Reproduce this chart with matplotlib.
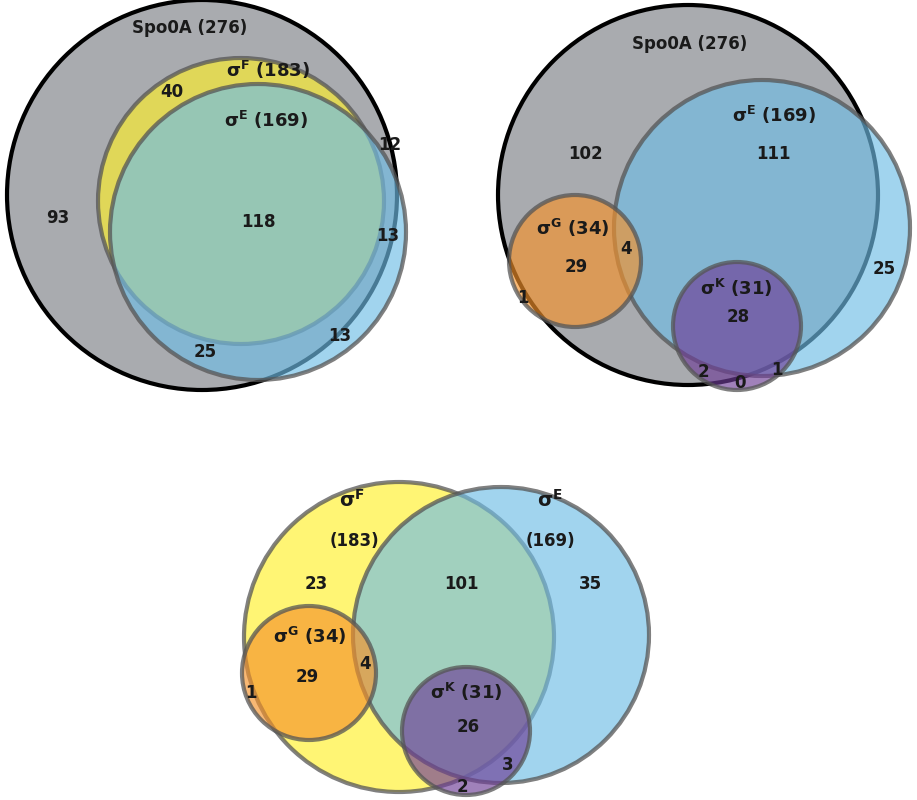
import matplotlib
matplotlib.use("Agg")
import matplotlib.pyplot as plt
from matplotlib.patches import Circle

# data
set_names = ["Spo0A", r"$\mathregular{\sigma^{F}}$", r"$\mathregular{\sigma^{E}}$", r"$\mathregular{\sigma^{G}}$", r"$\mathregular{\sigma^{K}}$"]
set_sizes = [276, 183, 169, 34, 31]
p1_counts = [93, 40, 118, 12, 13, 13, 25]
p2_counts = [102, 111, 29, 4, 1, 28, 25, 2, 0, 1]
p3_counts = [23, 101, 35, 29, 4, 1, 26, 3, 2]

colors = {"Spo0A": "#7c7e84", "F": "#fff02a", "E": "#6fbde6", "G": "#f5922a", "K": "#6e3d96"}

fig = plt.figure(figsize=(9.17, 8.0), dpi=100)
ax = fig.add_axes([0, 0, 1, 1])
ax.set_xlim(0, 917); ax.set_ylim(800, 0); ax.axis("off")

def circ(x, y, r, key, edge="#555555", lw=3):
    ax.add_patch(Circle((x, y), r, facecolor=colors[key], alpha=0.65, edgecolor="none"))
    ax.add_patch(Circle((x, y), r, facecolor="none", edgecolor=edge, lw=lw, alpha=0.75 if edge != "black" else 1))

def t(x, y, s, fs=12):
    ax.text(x, y, s, ha="center", va="center", fontsize=fs, fontweight="bold", color="#1a1a1a")

# panel 1
circ(202, 195, 195, "Spo0A", edge="black")
circ(241, 201, 143, "F")
circ(258, 232, 148, "E")
t(190, 28, f"{set_names[0]} ({set_sizes[0]})")
t(268, 70, f"{set_names[1]} ({set_sizes[1]})", 13)
t(266, 120, f"{set_names[2]} ({set_sizes[2]})", 13)
for (x, y), v in zip([(58, 218), (172, 92), (258, 222), (390, 145), (388, 236), (340, 336), (205, 352)], p1_counts):
    t(x, y, str(v))

# panel 2
circ(688, 195, 190, "Spo0A", edge="black")
circ(762, 228, 148, "E")
circ(575, 261, 66, "G")
circ(737, 326, 64, "K")
t(690, 44, f"{set_names[0]} ({set_sizes[0]})")
t(774, 115, f"{set_names[2]} ({set_sizes[2]})", 13)
t(573, 228, f"{set_names[3]} ({set_sizes[3]})", 13)
t(736, 288, f"{set_names[4]} ({set_sizes[4]})", 13)
for (x, y), v in zip([(585, 154), (773, 154), (576, 267), (626, 249), (523, 298), (738, 317), (884, 269), (703, 372), (740, 383), (777, 370)], p2_counts):
    t(x, y, str(v))

# panel 3
circ(399, 637, 155, "F")
circ(501, 635, 148, "E")
circ(309, 673, 67, "G")
circ(466, 731, 64, "K")
t(352, 500, set_names[1], 14); t(354, 541, f"({set_sizes[1]})")
t(550, 500, set_names[2], 14); t(550, 541, f"({set_sizes[2]})")
t(310, 636, f"{set_names[3]} ({set_sizes[3]})", 13)
t(466, 692, f"{set_names[4]} ({set_sizes[4]})", 13)
for (x, y), v in zip([(316, 584), (461, 584), (590, 584), (307, 677), (365, 664), (251, 693), (468, 727), (508, 765), (462, 787)], p3_counts):
    t(x, y, str(v))

fig.savefig("out.png", dpi=100)
